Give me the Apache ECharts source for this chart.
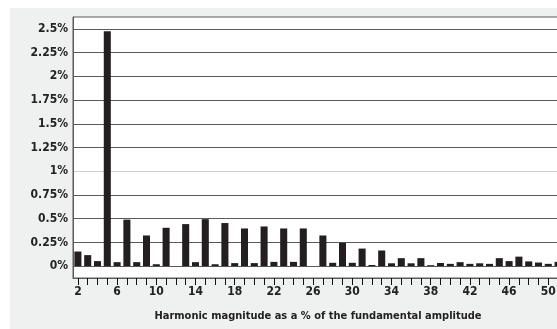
<!DOCTYPE html>
<html>
<head>
<meta charset="utf-8">
<script src="https://cdn.jsdelivr.net/npm/echarts@6/dist/echarts.min.js"></script>
<style>
html,body{margin:0;padding:0;background:#fff;overflow:hidden;}
#bg{position:absolute;left:10px;top:8px;width:560px;height:330px;background:#eff0f0;}
#chart{position:absolute;left:0;top:0;width:563px;height:329px;}
</style>
</head>
<body>
<div id="bg"></div>
<div id="chart"></div>
<script>
// Harmonic numbers (categories)
var harmonics = [];
for (var h = 2; h <= 51; h++) harmonics.push(String(h));

// Harmonic magnitude as % of fundamental, harmonics 2..51
var magnitudes = [
  0.154, 0.116, 0.053, 2.476, 0.042, 0.49, 0.042, 0.323, 0.02, 0.404,
  0.0, 0.443, 0.042, 0.495, 0.02, 0.454, 0.032, 0.397, 0.032, 0.418,
  0.045, 0.397, 0.045, 0.397, 0.0, 0.323, 0.035, 0.246, 0.035, 0.185,
  0.012, 0.165, 0.03, 0.084, 0.03, 0.084, 0.01, 0.033, 0.024, 0.042,
  0.024, 0.03, 0.024, 0.084, 0.053, 0.1, 0.05, 0.038, 0.024, 0.045
];

// Labelled y ticks (percent)
var yTickValues = [0, 0.25, 0.5, 0.75, 1, 1.25, 1.5, 1.75, 2, 2.25, 2.5];

var xTitle = 'Harmonic magnitude as a % of the fundamental amplitude';

var FONT = "'Liberation Sans Narrow','DejaVu Sans Condensed','Liberation Sans',sans-serif";

function isLabelled(v) {
  for (var i = 0; i < yTickValues.length; i++) {
    if (Math.abs(yTickValues[i] - v) < 1e-6) return true;
  }
  return false;
}

// split line colors for ticks -0.125, 0, 0.125, ... 2.625
var splitColors = [];
for (var k = 0; k <= 22; k++) {
  var v = -0.125 + k * 0.125;
  if (!isLabelled(v)) splitColors.push('rgba(0,0,0,0)');
  else if (Math.abs(v - 1) < 1e-6) splitColors.push('#cfcfcf');
  else splitColors.push('#5a5a5a');
}

var chart = echarts.init(document.getElementById('chart'));
chart.setOption({
  animation: false,
  backgroundColor: 'transparent',
  graphic: [{
    type: 'text', x: 318, y: 316, silent: true,
    style: {
      text: xTitle, fill: '#222', font: 'bold 11px ' + FONT,
      textAlign: 'center', textVerticalAlign: 'middle'
    }
  }],
  grid: {
    left: 73, right: 0, top: 17, bottom: 51,
    show: true, backgroundColor: '#ffffff', borderColor: '#5a5a5a', borderWidth: 1
  },
  xAxis: [{
    type: 'category',
    data: harmonics,
    axisLine: {onZero: false, lineStyle: {color: '#5a5a5a'}},
    axisTick: {show: true, alignWithLabel: true, interval: 0, length: 7, lineStyle: {color: '#111', width: 1}},
    axisLabel: {interval: 3, color: '#222', fontFamily: FONT, fontWeight: 'bold', fontSize: 12}
  }, {
    type: 'category',
    data: harmonics,
    position: 'bottom',
    axisLine: {show: false, onZero: false},
    axisTick: {show: true, alignWithLabel: true, interval: 0, length: 7, lineStyle: {color: '#111', width: 1}},
    axisLabel: {show: false},
    splitLine: {show: false}
  }],
  yAxis: {
    type: 'value',
    min: -0.125,
    max: 2.625,
    interval: 0.125,
    axisLine: {show: true, lineStyle: {color: '#5a5a5a'}},
    axisTick: {show: false},
    axisLabel: {
      color: '#222', fontFamily: FONT, fontWeight: 'bold', fontSize: 12, margin: 5,
      formatter: function (v) {
        if (v < -1e-6 || !isLabelled(v)) return '';
        return (Math.round(v * 100) / 100) + '%';
      }
    },
    splitLine: {show: true, lineStyle: {color: splitColors, width: 1}}
  },
  series: [{
    type: 'bar',
    xAxisIndex: 0,
    data: magnitudes,
    barCategoryGap: '28%',
    itemStyle: {color: '#231f20'}
  }]
});
</script>
</body>
</html>
